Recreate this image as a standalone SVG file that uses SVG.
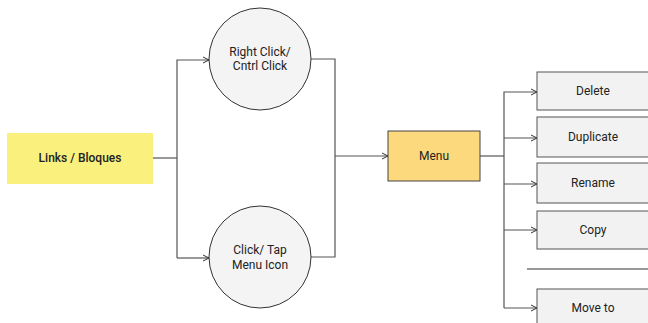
<svg xmlns="http://www.w3.org/2000/svg" width="648" height="323" viewBox="0 0 648 323">
<style>
text{font-family:Roboto,"Liberation Sans",sans-serif;font-size:12px;fill:#222;text-anchor:middle}
.c{fill:#f4f4f4;stroke:#333;stroke-width:1}
.b{fill:#f2f2f2;stroke:#555;stroke-width:1}
.ln{fill:none;stroke:#555;stroke-width:1.2}
</style>
<defs>
<marker id="a" viewBox="0 0 8 8" refX="7" refY="4" markerWidth="8" markerHeight="8" markerUnits="userSpaceOnUse" orient="auto">
<path d="M1,1 L7,4 L1,7" fill="none" stroke="#333" stroke-width="1"/>
</marker>
</defs>
<rect width="648" height="323" fill="#fff"/>
<g id="connectors">
<path class="ln" d="M153,158 H177"/>
<path class="ln" d="M177,258 V60 H209" marker-end="url(#a)"/>
<path class="ln" d="M177,258 H209" marker-end="url(#a)"/>
<path class="ln" d="M311,59 H335 V257 H311"/>
<path class="ln" d="M335,156 H388" marker-end="url(#a)"/>
<path class="ln" d="M480,156 H504"/>
<path class="ln" d="M504,308 V92 H537" marker-end="url(#a)"/>
<path class="ln" d="M504,138 H537" marker-end="url(#a)"/>
<path class="ln" d="M504,184 H537" marker-end="url(#a)"/>
<path class="ln" d="M504,230 H537" marker-end="url(#a)"/>
<path class="ln" d="M504,308 H537" marker-end="url(#a)"/>
</g>
<g id="links">
<rect x="7" y="133" width="146" height="51" fill="#f9f07d"/>
<text x="80" y="162" font-weight="500">Links / Bloques</text>
</g>
<g id="rightclick">
<circle class="c" cx="260" cy="59" r="51"/>
<text x="260" y="56">Right Click/</text>
<text x="260" y="70">Cntrl Click</text>
</g>
<g id="clicktap">
<circle class="c" cx="260" cy="257" r="51"/>
<text x="260" y="254">Click/ Tap</text>
<text x="260" y="269">Menu Icon</text>
</g>
<g id="menu">
<rect x="388" y="131" width="92" height="50" fill="#fdd97e" stroke="#444" stroke-width="1"/>
<text x="434" y="160">Menu</text>
</g>
<g id="delete">
<rect class="b" x="537" y="72" width="114" height="38"/>
<text x="593" y="95">Delete</text>
</g>
<g id="duplicate">
<rect class="b" x="537" y="117" width="114" height="40"/>
<text x="593" y="141">Duplicate</text>
</g>
<g id="rename">
<rect class="b" x="537" y="163" width="114" height="40"/>
<text x="593" y="187">Rename</text>
</g>
<g id="copy">
<rect class="b" x="537" y="211" width="114" height="38"/>
<text x="593" y="234">Copy</text>
</g>
<g id="separator">
<path d="M527,269 H648" stroke="#333" stroke-width="1.2"/>
</g>
<g id="moveto">
<rect class="b" x="537" y="289" width="114" height="40"/>
<text x="593" y="312">Move to</text>
</g>
</svg>
